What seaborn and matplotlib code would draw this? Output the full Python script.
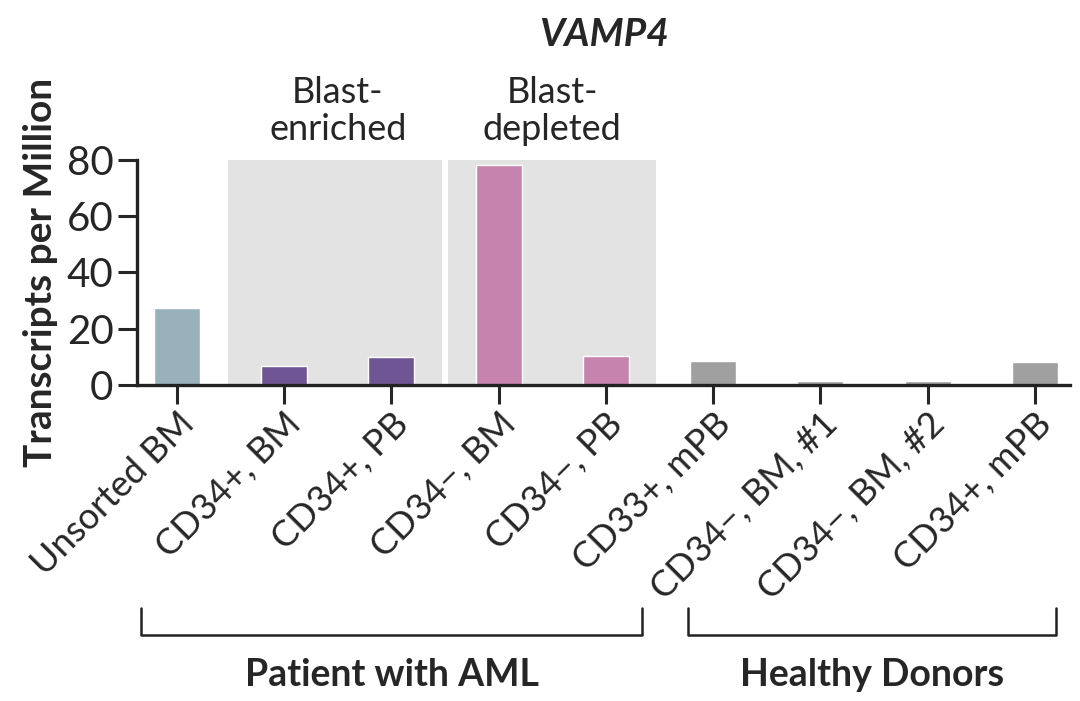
import matplotlib
matplotlib.use('Agg')
import matplotlib.pyplot as plt
import matplotlib.transforms as mtransforms
import seaborn as sns
import pandas as pd

# data
samples = ['Unsorted BM', 'CD34+, BM', 'CD34+, PB', 'CD34−, BM', 'CD34−, PB',
           'CD33+, mPB', 'CD34−, BM, #1', 'CD34−, BM, #2', 'CD34+, mPB']
tpm = [27.3, 6.7, 10.0, 78.3, 10.1, 8.6, 1.4, 1.2, 8.0]
bar_colors = ['#99b1bb', '#6f5594', '#6f5594', '#c583ad', '#c583ad',
              '#a0a0a0', '#a0a0a0', '#a0a0a0', '#a0a0a0']
shade_labels = ['Blast-\nenriched', 'Blast-\ndepleted']
group_labels = ['Patient with AML', 'Healthy Donors']

df = pd.DataFrame({'sample': samples, 'tpm': tpm})

sns.set_style('ticks')
plt.rcParams['font.family'] = ['Lato', 'DejaVu Sans']

fig = plt.figure(figsize=(10.8, 7.01), dpi=100)
ax = fig.add_axes([0.127, 0.451, 0.864, 0.321])

# shaded blast regions
ax.axvspan(0.48, 2.47, color='#e3e3e3', lw=0, zorder=0)
ax.axvspan(2.53, 4.47, color='#e3e3e3', lw=0, zorder=0)

sns.barplot(data=df, x='sample', y='tpm', hue='sample', palette=bar_colors,
            width=0.43, legend=False, saturation=1, ax=ax, zorder=2)

ax.set_xlim(-0.37, 8.33)
ax.set_ylim(0, 80)
ax.set_yticks([0, 20, 40, 60, 80])
ax.tick_params(axis='y', labelsize=29, length=14, width=2.2, pad=3)
ax.tick_params(axis='x', labelsize=26, length=14, width=2.2, pad=2)
for lab in ax.get_xticklabels():
    lab.set_rotation(45)
    lab.set_ha('right')
    lab.set_va('top')
    lab.set_rotation_mode('anchor')

for s in ['top', 'right']:
    ax.spines[s].set_visible(False)
for s in ['left', 'bottom']:
    ax.spines[s].set_linewidth(2.4)
    ax.spines[s].set_color('#222222')

ax.set_xlabel('')
ax.set_ylabel('Transcripts per Million', fontsize=28, fontweight='bold', labelpad=6)
ax.text(0.5, 1.556, 'VAMP4', transform=ax.transAxes, ha='center', va='center',
        fontsize=28, fontweight='bold', style='italic')

# labels above shaded regions
trans = mtransforms.blended_transform_factory(ax.transData, ax.transAxes)
for xc, txt in zip([1.5, 3.5], shade_labels):
    ax.text(xc, 1.06, txt, transform=trans, ha='center', va='bottom',
            fontsize=26, linespacing=1.15)

# group brackets below the tick labels
for (x0, x1), txt in zip([(-0.33, 4.34), (4.77, 8.2)], group_labels):
    ax.plot([x0, x0, x1, x1], [-0.99, -1.11, -1.11, -0.99], color='#222222', lw=1.8,
            transform=trans, clip_on=False)
    ax.text((x0 + x1) / 2, -1.29, txt, transform=trans, ha='center', va='center',
            fontsize=27, fontweight='bold')

fig.savefig('out.png', dpi=100)
